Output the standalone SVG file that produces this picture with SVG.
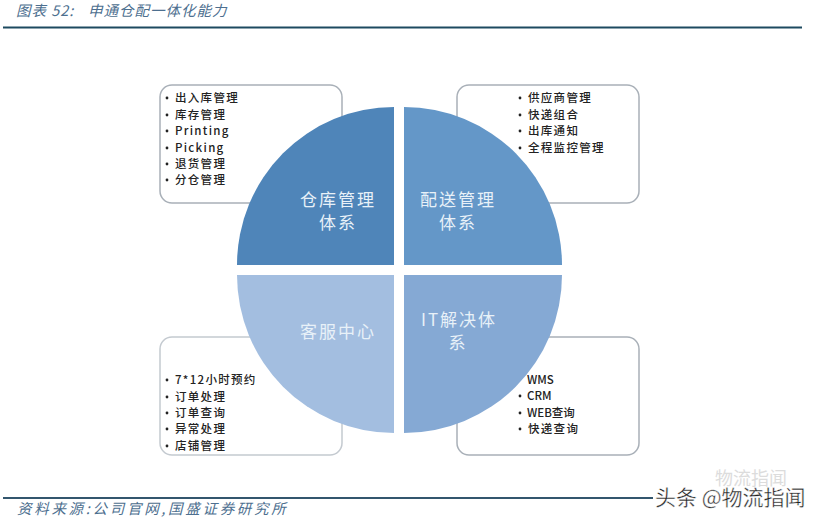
<svg xmlns="http://www.w3.org/2000/svg" width="821" height="522" viewBox="0 0 821 522">
<style>
text{font-family:"Noto Sans CJK SC","Liberation Sans",sans-serif}
.box{fill:#fff;stroke:#a9b0b8;stroke-width:1.5}
.li{font-size:11.5px;letter-spacing:1.3px;fill:#222;font-weight:500}
.b{fill:#222}
.lab{font-size:17px;letter-spacing:2px;fill:#e8f1f8;text-anchor:middle}
.cap{font-style:italic;fill:#4d6f8f}
</style>
<rect width="821" height="522" fill="#fff"/>
<g id="header">
<text class="cap" x="16" y="16" font-size="14.5" letter-spacing="1">图表 52:<tspan x="88">申通仓配一体化能力</tspan></text>
<rect x="3" y="26.5" width="799" height="2" fill="#1d4a60"/>
</g>
<g id="box-warehouse">
<rect class="box" x="160" y="85" width="182" height="118" rx="12"/>
<circle class="b" cx="167" cy="98" r="1.4"/><text class="li" x="175" y="102">出入库管理</text>
<circle class="b" cx="167" cy="115" r="1.4"/><text class="li" x="175" y="119">库存管理</text>
<circle class="b" cx="167" cy="131" r="1.4"/><text class="li" x="175" y="135">Printing</text>
<circle class="b" cx="167" cy="148" r="1.4"/><text class="li" x="175" y="152">Picking</text>
<circle class="b" cx="167" cy="164" r="1.4"/><text class="li" x="175" y="168">退货管理</text>
<circle class="b" cx="167" cy="180" r="1.4"/><text class="li" x="175" y="184">分仓管理</text>
</g>
<g id="box-delivery">
<rect class="box" x="457" y="85" width="182" height="118" rx="12"/>
<circle class="b" cx="520" cy="98" r="1.4"/><text class="li" x="528" y="102">供应商管理</text>
<circle class="b" cx="520" cy="115" r="1.4"/><text class="li" x="528" y="119">快递组合</text>
<circle class="b" cx="520" cy="131" r="1.4"/><text class="li" x="528" y="135">出库通知</text>
<circle class="b" cx="520" cy="148" r="1.4"/><text class="li" x="528" y="152">全程监控管理</text>
</g>
<g id="box-service">
<rect class="box" x="160" y="337" width="182" height="118" rx="12" style="stroke:#c4cad0"/>
<circle class="b" cx="167" cy="380" r="1.4"/><text class="li" x="175" y="384">7*12小时预约</text>
<circle class="b" cx="167" cy="397" r="1.4"/><text class="li" x="175" y="401">订单处理</text>
<circle class="b" cx="167" cy="413" r="1.4"/><text class="li" x="175" y="417">订单查询</text>
<circle class="b" cx="167" cy="429" r="1.4"/><text class="li" x="175" y="433">异常处理</text>
<circle class="b" cx="167" cy="446" r="1.4"/><text class="li" x="175" y="450">店铺管理</text>
</g>
<g id="box-it">
<rect class="box" x="457" y="337" width="182" height="118" rx="12"/>
<text class="li" x="527" y="384" style="letter-spacing:0">WMS</text>
<circle class="b" cx="520" cy="396" r="1.4"/><text class="li" x="527" y="400" style="letter-spacing:0">CRM</text>
<circle class="b" cx="520" cy="413" r="1.4"/><text class="li" x="527" y="417" style="letter-spacing:0">WEB查询</text>
<circle class="b" cx="520" cy="429" r="1.4"/><text class="li" x="528" y="433">快递查询</text>
</g>
<g id="node-warehouse">
<path d="M394 265H237A157 158 0 0 1 394 107Z" fill="#4f85b9"/>
<text class="lab" x="338" y="206">仓库管理</text>
<text class="lab" x="338" y="229">体系</text>
</g>
<g id="node-delivery">
<path d="M404 265H562A158 158 0 0 0 404 107Z" fill="#6497c8"/>
<text class="lab" x="458" y="206">配送管理</text>
<text class="lab" x="458" y="229">体系</text>
</g>
<g id="node-service">
<path d="M394 275H237A157 158 0 0 0 394 433Z" fill="#a3bee0"/>
<text class="lab" x="338" y="338">客服中心</text>
</g>
<g id="node-it">
<path d="M404 275H562A158 158 0 0 1 404 433Z" fill="#85a9d4"/>
<text class="lab" x="459" y="326">IT解决体</text>
<text class="lab" x="458" y="349">系</text>
</g>
<g id="connectors"/>
<g id="footer">
<rect x="3" y="497" width="650" height="2" fill="#33566e"/>
<text class="cap" x="17" y="514" font-size="14.5" letter-spacing="2.7">资料来源:公司官网,国盛证券研究所</text>
<text x="715" y="485" font-size="18" fill="#dcdcdc">物流指闻</text>
<text x="655" y="505" font-size="21" fill="#222" stroke="#fff" stroke-width="0.4">头条 @物流指闻</text>
</g>
</svg>
